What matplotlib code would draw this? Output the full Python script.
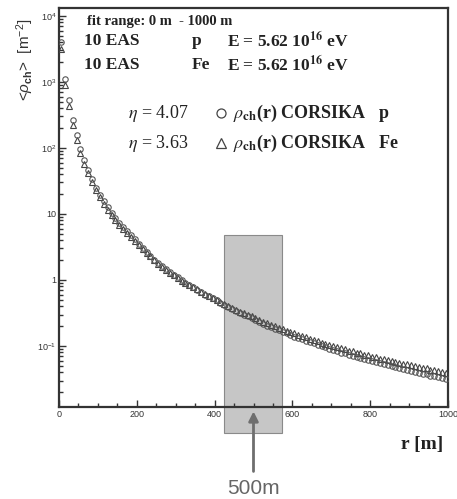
import numpy as np
import matplotlib.pyplot as plt
from matplotlib.patches import Rectangle
from matplotlib.ticker import FixedLocator, FixedFormatter, MultipleLocator, LogLocator

# distance from shower core [m]
r_m = list(range(5, 1000, 10))

# log10 of the mean charged particle density
log_rho_p = [
    3.60, 3.05, 2.72, 2.42, 2.19, 1.98, 1.82, 1.67, 1.53, 1.40,
    1.29, 1.19, 1.10, 1.02, 0.94, 0.87, 0.80, 0.74, 0.68, 0.62,
    0.55, 0.49, 0.43, 0.37, 0.31, 0.25, 0.21, 0.16, 0.12, 0.08,
    0.04, 0.00, -0.04, -0.08, -0.11, -0.15, -0.18, -0.22, -0.25, -0.28,
    -0.31, -0.35, -0.38, -0.41, -0.44, -0.47, -0.50, -0.53, -0.55, -0.58,
    -0.61, -0.64, -0.66, -0.69, -0.71, -0.74, -0.76, -0.79, -0.81, -0.83,
    -0.86, -0.88, -0.90, -0.92, -0.94, -0.96, -0.98, -1.00, -1.02, -1.04,
    -1.06, -1.08, -1.10, -1.11, -1.13, -1.15, -1.16, -1.18, -1.20, -1.21,
    -1.23, -1.24, -1.26, -1.28, -1.29, -1.31, -1.32, -1.34, -1.35, -1.36,
    -1.38, -1.39, -1.41, -1.42, -1.43, -1.45, -1.46, -1.47, -1.49, -1.50,
]
log_rho_fe = [
    3.50, 2.96, 2.64, 2.35, 2.12, 1.92, 1.76, 1.62, 1.48, 1.36,
    1.25, 1.15, 1.06, 0.98, 0.91, 0.84, 0.77, 0.71, 0.65, 0.59,
    0.53, 0.47, 0.41, 0.36, 0.30, 0.24, 0.20, 0.15, 0.11, 0.07,
    0.03, -0.01, -0.04, -0.08, -0.11, -0.14, -0.18, -0.21, -0.24, -0.27,
    -0.30, -0.33, -0.36, -0.39, -0.42, -0.45, -0.48, -0.50, -0.53, -0.55,
    -0.58, -0.60, -0.63, -0.65, -0.68, -0.70, -0.72, -0.75, -0.77, -0.79,
    -0.81, -0.83, -0.85, -0.87, -0.89, -0.91, -0.93, -0.95, -0.97, -0.98,
    -1.00, -1.02, -1.03, -1.05, -1.07, -1.08, -1.10, -1.11, -1.13, -1.14,
    -1.16, -1.17, -1.19, -1.20, -1.21, -1.23, -1.24, -1.25, -1.27, -1.28,
    -1.29, -1.31, -1.32, -1.33, -1.34, -1.36, -1.37, -1.38, -1.39, -1.41,
]

x_ticks = [0, 200, 400, 600, 800, 1000]
x_tick_labels = ["0", "200", "400", "600", "800", "1000"]
y_ticks = [1e-1, 1, 10, 1e2, 1e3, 1e4]
y_tick_labels = [r"$10^{-1}$", "1", "10", r"$10^{2}$", r"$10^{3}$", r"$10^{4}$"]

# highlighted window around 500 m
window_r = (425, 574)
window_top = 4.8

plt.rcParams["font.family"] = "Liberation Sans"
plt.rcParams["mathtext.fontset"] = "custom"
plt.rcParams["mathtext.rm"] = "Liberation Sans"
plt.rcParams["mathtext.it"] = "Liberation Sans:italic"
plt.rcParams["mathtext.bf"] = "Liberation Sans:bold"

W, H = 457, 499
fig = plt.figure(figsize=(W / 100, H / 100), dpi=100)
ax = fig.add_axes([59 / W, 1 - 407 / H, 389 / W, 399 / H])

ax.set_yscale("log")
ax.set_xlim(0, 1000)
ax.set_ylim(10 ** -1.924, 10 ** 4.12)

# gray window, drawn partly below the axis
y_bottom = 10 ** -2.32
ax.add_patch(Rectangle((window_r[0], y_bottom), window_r[1] - window_r[0],
                       window_top - y_bottom, fc="#c6c6c6", ec="#8a8a8a",
                       lw=0.8, clip_on=False, zorder=1))

rho_p = 10 ** np.array(log_rho_p)
rho_fe = 10 ** np.array(log_rho_fe)
mk = dict(ls="none", mfc="none", mew=0.8, ms=3.9, zorder=3)
ax.plot(r_m, rho_fe, marker="^", mec="#444444", **mk)
ax.plot(r_m, rho_p, marker="o", mec="#555555", **mk)

# ticks
ax.xaxis.set_major_locator(FixedLocator(x_ticks))
ax.xaxis.set_major_formatter(FixedFormatter(x_tick_labels))
ax.xaxis.set_minor_locator(MultipleLocator(50))
ax.yaxis.set_major_locator(FixedLocator(y_ticks))
ax.yaxis.set_major_formatter(FixedFormatter(y_tick_labels))
ax.yaxis.set_minor_locator(LogLocator(base=10, subs=np.arange(2, 10)))
ax.yaxis.set_minor_formatter(FixedFormatter([]))
ax.tick_params(which="both", direction="in", color="#333333", width=1.0)
ax.tick_params(which="major", length=5, labelsize=6.5, labelcolor="#333333", pad=2)
ax.tick_params(which="minor", length=3)
for s in ax.spines.values():
    s.set_linewidth(1.6)
    s.set_color("#333333")

# header text
serif = "Liberation Serif"
tc = "#222222"


def atext(xpx, ypx, s, **kw):
    # positions given in pixels from the axes' top-left corner
    ax.text(xpx / 389, 1 - ypx / 399, s, transform=ax.transAxes, family=serif,
            color=tc, va="center", math_fontfamily="stix", **kw)


atext(28, 13, "fit range: 0 m  - 1000 m", fontsize=10.5, fontweight="bold")
for yy, part in [(33, "p"), (57, "Fe")]:
    atext(25, yy, "10 EAS", fontsize=12.5, fontweight="bold")
    atext(133, yy, part, fontsize=12.5, fontweight="bold")
    atext(168, yy, r"E = 5.62 10$^{\mathbf{16}}$ eV", fontsize=12.5, fontweight="bold")

for yy, eta, mark, part in [(105, "4.07", "o", "p"), (135, "3.63", "^", "Fe")]:
    atext(69, yy, r"$\eta$ = " + eta, fontsize=13)
    ax.plot([162 / 389], [1 - yy / 399], marker=mark, mfc="none", mec="#444444",
            mew=0.9, ms=6.5, transform=ax.transAxes)
    atext(174, yy, r"$\rho_{\mathbf{ch}}$(r) CORSIKA   " + part, fontsize=13,
          fontweight="bold")

# axis labels
fig.text(25 / W, 1 - 60 / H, r"<$\rho_{\mathbf{ch}}$>  [m$^{-2}$]", rotation=90,
         fontsize=11, color="#333333", ha="center", va="center")
fig.text(422 / W, 1 - 445 / H, "r [m]", family=serif, fontsize=14,
         fontweight="bold", color=tc, ha="center", va="center")

# arrow pointing at 500 m
ax.annotate("", xy=(500, 10 ** -1.99), xytext=(500, 10 ** -2.9),
            xycoords="data", textcoords="data", annotation_clip=False,
            arrowprops=dict(arrowstyle="-|>", color="#6e6e6e", lw=2.0,
                            mutation_scale=14, shrinkA=0, shrinkB=0))
fig.text(253 / W, 1 - 488 / H, "500m", fontsize=15,
         color="#666666", ha="center", va="center")

fig.savefig("out.png", dpi=100)
